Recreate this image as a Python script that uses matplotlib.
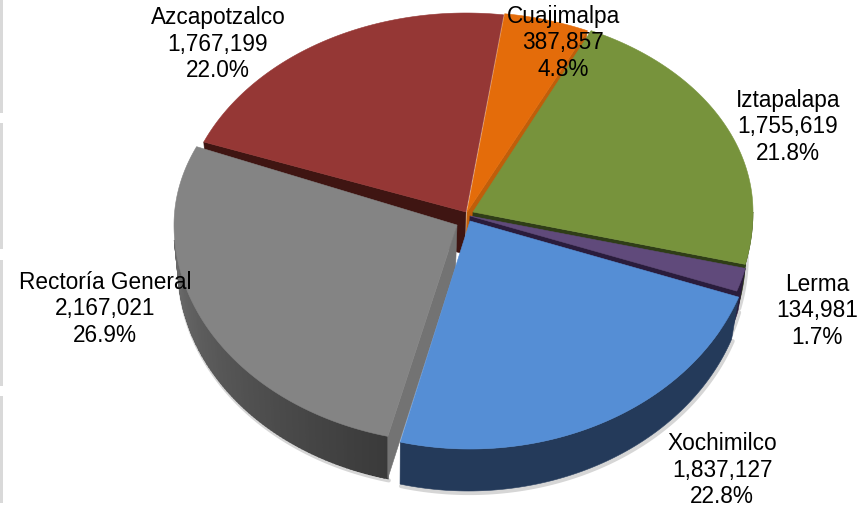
import numpy as np
import matplotlib
matplotlib.use("Agg")
import matplotlib.pyplot as plt
from matplotlib.patches import Polygon, Rectangle
from matplotlib.colors import to_rgb

# clockwise from the Azcapotzalco/Cuajimalpa cut
names = ['Cuajimalpa', 'Iztapalapa', 'Lerma', 'Xochimilco', 'Rectoría General', 'Azcapotzalco']
values = [387857, 1755619, 134981, 1837127, 2167021, 1767199]
top_colors = ['#E46C0A', '#77933C', '#604A7B', '#558ED5', '#848484', '#953735']
wall_colors = ['#C05E0A', '#2F3D17', '#2A1C3C', '#243A5A', '#737373', '#3F1512']

# arc centre (px), rx, ry upper half, ry lower half
wedge_shape = {
    'Cuajimalpa': (467, 212, 285, 200, 225),
    'Iztapalapa': (473, 212, 280, 200, 225),
    'Lerma': (470, 216, 283, 200, 225),
    'Xochimilco': (470, 221, 285, 200, 228),
    'Rectoría General': (457, 225, 283, 200, 218),
    'Azcapotzalco': (466, 225, 285, 212, 225),
}
# tip of each slice (px)
apex = {
    'Cuajimalpa': (467, 212),
    'Iztapalapa': (473, 212),
    'Lerma': (470, 216),
    'Xochimilco': (470, 221),
    'Rectoría General': (457, 225),
    'Azcapotzalco': (466, 212),
}
label_pos = {
    'Cuajimalpa': (563, 43),
    'Iztapalapa': (788, 127),
    'Lerma': (817, 311),
    'Xochimilco': (722, 470),
    'Rectoría General': (105, 309),
    'Azcapotzalco': (218, 44),
}
draw_order = ['Azcapotzalco', 'Cuajimalpa', 'Iztapalapa', 'Lerma', 'Rectoría General', 'Xochimilco']

START_ANGLE = 7.6
DEPTH = 42
SHRINK = 0.98
VANISH_X = 388

left_bars = [(0, 113), (123, 249), (260, 386), (396, 503)]


def warp(a):
    # perspective pushes the cuts round a little on the lower left
    a = np.asarray(a, dtype=float)
    return a + np.interp(a, [0, 110, 191.6, 288.4, 367.6], [0, 0, 2.5, 4.5, 0])


def arc_points(shape, a0, a1, n=120):
    cx, cy, rx, ry_up, ry_low = shape
    t = np.radians(np.linspace(a0, a1, n))
    x = cx + rx * np.sin(t)
    c = np.cos(t)
    y = cy - np.where(c > 0, ry_up, ry_low) * c
    return x, y


def drop(x, y):
    return VANISH_X + (np.asarray(x) - VANISH_X) * SHRINK, np.asarray(y) + DEPTH


fig = plt.figure(figsize=(8.61, 5.07), dpi=100)
ax = fig.add_axes([0, 0, 1, 1])
ax.set_xlim(0, 861)
ax.set_ylim(507, 0)
ax.axis('off')

for y0, y1 in left_bars:
    ax.add_patch(Rectangle((0, y0), 3, y1 - y0, color='#D9D9D9', lw=0))

total = sum(values)
sweeps = np.array(values) / total * 360
cuts = warp(START_ANGLE + np.concatenate([[0], np.cumsum(sweeps)]))
angle = {n: (cuts[i], cuts[i + 1]) for i, n in enumerate(names)}

for name in draw_order:
    i = names.index(name)
    shape = wedge_shape[name]
    z = 2 + draw_order.index(name)
    a0, a1 = angle[name]
    cx, cy = apex[name]
    x, y = arc_points(shape, a0, a1)

    # rim
    lo, hi = max(a0, 90), min(a1, 266)
    if lo < hi:
        xr, yr = arc_points(shape, lo, hi, 90)
        xb, yb = drop(xr, yr)
        ax.plot(xb + 1, yb + 2, color='#BBBBBB', lw=3, alpha=0.6, solid_capstyle='round', zorder=1)
        if name == 'Rectoría General':
            for k in range(len(xr) - 1):
                f = k / (len(xr) - 2)
                col = np.array(to_rgb('#3A3A3A')) * (1 - f) + np.array(to_rgb('#6A6A6A')) * f
                ax.add_patch(Polygon([(xr[k], yr[k]), (xr[k + 1], yr[k + 1]), (xb[k + 1], yb[k + 1]), (xb[k], yb[k])],
                                     facecolor=col, edgecolor=col, lw=1.2, zorder=z))
        else:
            ax.add_patch(Polygon(np.r_[np.c_[xr, yr], np.c_[xb, yb][::-1]], facecolor=wall_colors[i],
                                 edgecolor=wall_colors[i], lw=0.4, zorder=z))

    # cut face that looks at the viewer
    if name != 'Xochimilco':
        if name in ('Rectoría General', 'Azcapotzalco'):
            ex, ey = x[0], y[0]
        else:
            ex, ey = x[-1], y[-1]
        (bx, by), (dx, dy) = drop(ex, ey), drop(cx, cy)
        ax.add_patch(Polygon([(ex, ey), (cx, cy), (dx, dy), (bx, by)], facecolor=wall_colors[i],
                             edgecolor=wall_colors[i], lw=0.4, zorder=z))

    ax.add_patch(Polygon(np.r_[[[cx, cy]], np.c_[x, y]], facecolor=top_colors[i], edgecolor=top_colors[i],
                         lw=0.4, zorder=z))

for name, val in zip(names, values):
    px, py = label_pos[name]
    ax.text(px, py, f"{name}\n{val:,}\n{val / total * 100:.1f}%", ha='center', va='center',
            fontsize=16.3, family='Liberation Sans', color='black', linespacing=1.17, zorder=20)

fig.savefig('out.png', dpi=100)
